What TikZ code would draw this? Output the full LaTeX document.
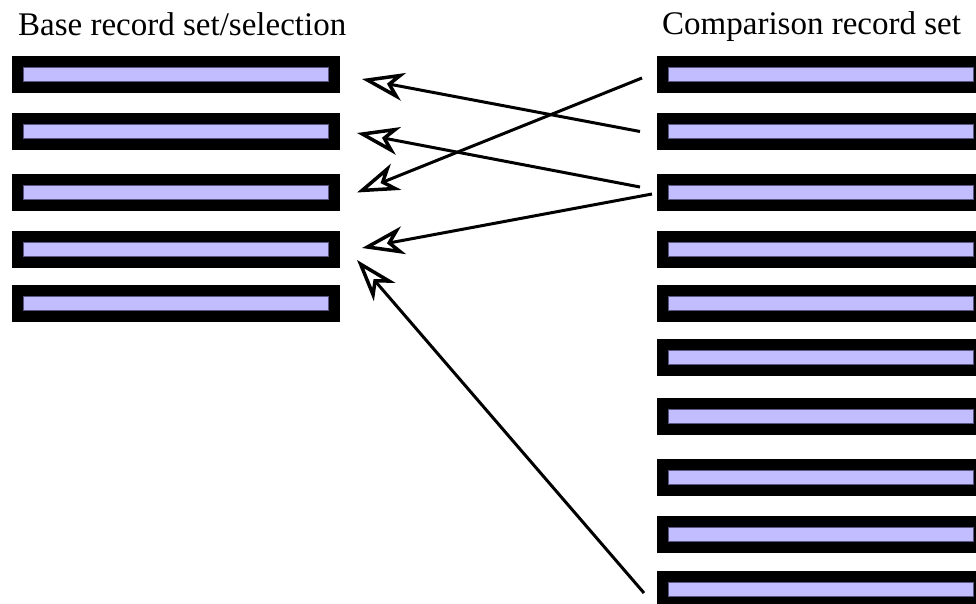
\documentclass[tikz,border=0pt]{standalone}
\usepackage{fontspec}
\setmainfont{Liberation Serif}
\usetikzlibrary{arrows.meta}
\definecolor{lav}{RGB}{194,189,255}
\definecolor{lavedge}{RGB}{90,86,130}
\tikzset{
  headtip/.tip={Stealth[open, fill=white, length=42pt, width=28pt, inset=12pt, line width=3.5pt]}
}
\begin{document}
\begin{tikzpicture}[x=1pt,y=-1pt,
  record/.style={fill=black, draw=none, minimum width=328pt, minimum height=37pt,
    inner sep=0pt, outer sep=0pt,
    path picture={\filldraw[fill=lav, draw=lavedge, line width=0.6pt]
      ([shift={(11pt,-11pt)}]path picture bounding box.north west) rectangle
      ([shift={(-12pt,11.5pt)}]path picture bounding box.south east);}},
  heading/.style={font=\fontsize{33}{36}\selectfont, inner sep=0pt, anchor=base west},
  link/.style={line width=3pt, -headtip}
]
\useasboundingbox (0,0) rectangle (976,604);

% titles
\node[heading] (tbase) at (18,36) {Base record set/selection};
\node[heading] (tcomp) at (662,35) {Comparison record set};

% base records
\foreach \t [count=\i] in {56,113,174,231,285}
  \node[record] (L\i) at (176,\t+18.5) {};

% comparison records
\foreach \t [count=\i] in {56,113,174,231,285,339,398,459,516,571}
  \node[record] (R\i) at (821,\t+18.5) {};

% matches
\draw[link] ([shift={(-17,0)}]R2.west) -- ([shift={(22,4.5)}]L1.east);
\draw[link] ([shift={(-15,3.5)}]R1.west) -- ([shift={(17,0)}]L3.east);
\draw[link] ([shift={(-17,-5.5)}]R3.west) -- ([shift={(17,1.5)}]L2.east);
\draw[link] ([shift={(-5,1.5)}]R3.west) -- ([shift={(22,-1.5)}]L4.east);
\draw[link] ([shift={(-13,3.5)}]R10.west) -- ([shift={(17,10.5)}]L4.east);
\end{tikzpicture}
\end{document}
